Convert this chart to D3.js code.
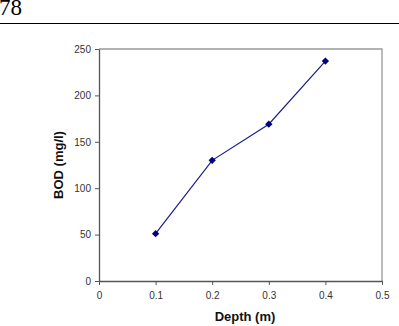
<!DOCTYPE html>
<html>
<head>
<meta charset="utf-8">
<script src="https://cdn.jsdelivr.net/npm/d3@7"></script>
<style>
  body { margin: 0; background: #fff; }
  svg { display: block; }
</style>
</head>
<body>
<svg id="chart" width="399" height="326"></svg>
<script>
// data
const depths = [0.1, 0.2, 0.3, 0.4];
const bodValues = [51, 130, 169, 237];
const xTicks = [0, 0.1, 0.2, 0.3, 0.4, 0.5];
const yTicks = [0, 50, 100, 150, 200, 250];

const svg = d3.select('#chart');

// page header: number and rule
svg.append('text')
    .attr('x', -1)
    .attr('y', 15)
    .attr('font-family', 'Liberation Serif, DejaVu Serif, serif')
    .attr('font-size', 23)
    .attr('fill', '#000')
    .text('78');
svg.append('line')
    .attr('x1', 0).attr('x2', 399)
    .attr('y1', 23.5).attr('y2', 23.5)
    .attr('stroke', '#000')
    .attr('stroke-width', 1.2);

const plot = {left: 99, top: 49, right: 382, bottom: 281};

const x = d3.scaleLinear().domain([0, 0.5]).range([plot.left, plot.right]);
const y = d3.scaleLinear().domain([0, 250]).range([plot.bottom, plot.top]);

// frame (top and right are lighter)
svg.append('path')
    .attr('d', `M${plot.left},${plot.top}H${plot.right}V${plot.bottom}`)
    .attr('fill', 'none')
    .attr('stroke', '#999')
    .attr('stroke-width', 1.3);

const xAxis = svg.append('g')
    .attr('transform', `translate(0,${plot.bottom})`)
    .call(d3.axisBottom(x).tickValues(xTicks).tickSize(4).tickSizeOuter(0).tickFormat(d3.format('')));
const yAxis = svg.append('g')
    .attr('transform', `translate(${plot.left},0)`)
    .call(d3.axisLeft(y).tickValues(yTicks).tickSize(4).tickSizeOuter(0));

[xAxis, yAxis].forEach(g => {
    g.select('.domain').attr('stroke', '#555').attr('stroke-width', 1.3);
    g.selectAll('.tick line').attr('stroke', '#555');
    g.selectAll('text')
        .attr('font-family', 'Liberation Sans, Arial, sans-serif')
        .attr('font-size', 10)
        .attr('fill', '#333');
});
xAxis.selectAll('text').attr('y', 11).attr('dy', '0.71em');
yAxis.selectAll('text').attr('x', -8);

// line and markers
const line = d3.line()
    .x((d, i) => x(depths[i]))
    .y(d => y(d));

svg.append('path')
    .datum(bodValues)
    .attr('d', line)
    .attr('fill', 'none')
    .attr('stroke', '#1c1c8c')
    .attr('stroke-width', 1.2);

svg.selectAll('.marker')
    .data(bodValues)
    .enter()
    .append('path')
    .attr('class', 'marker')
    .attr('transform', (d, i) => `translate(${x(depths[i])},${y(d)})`)
    .attr('d', d3.symbol().type(d3.symbolDiamond2).size(34))
    .attr('fill', '#000080');

// axis titles
svg.append('text')
    .attr('x', 245)
    .attr('y', 321)
    .attr('text-anchor', 'middle')
    .attr('font-family', 'Liberation Sans, Arial, sans-serif')
    .attr('font-weight', 'bold')
    .attr('font-size', 13)
    .attr('fill', '#111')
    .text('Depth (m)');

svg.append('text')
    .attr('transform', `translate(63,${(plot.top + plot.bottom) / 2}) rotate(-90)`)
    .attr('text-anchor', 'middle')
    .attr('font-family', 'Liberation Sans, Arial, sans-serif')
    .attr('font-weight', 'bold')
    .attr('font-size', 13)
    .attr('fill', '#111')
    .text('BOD (mg/l)');
</script>
</body>
</html>
